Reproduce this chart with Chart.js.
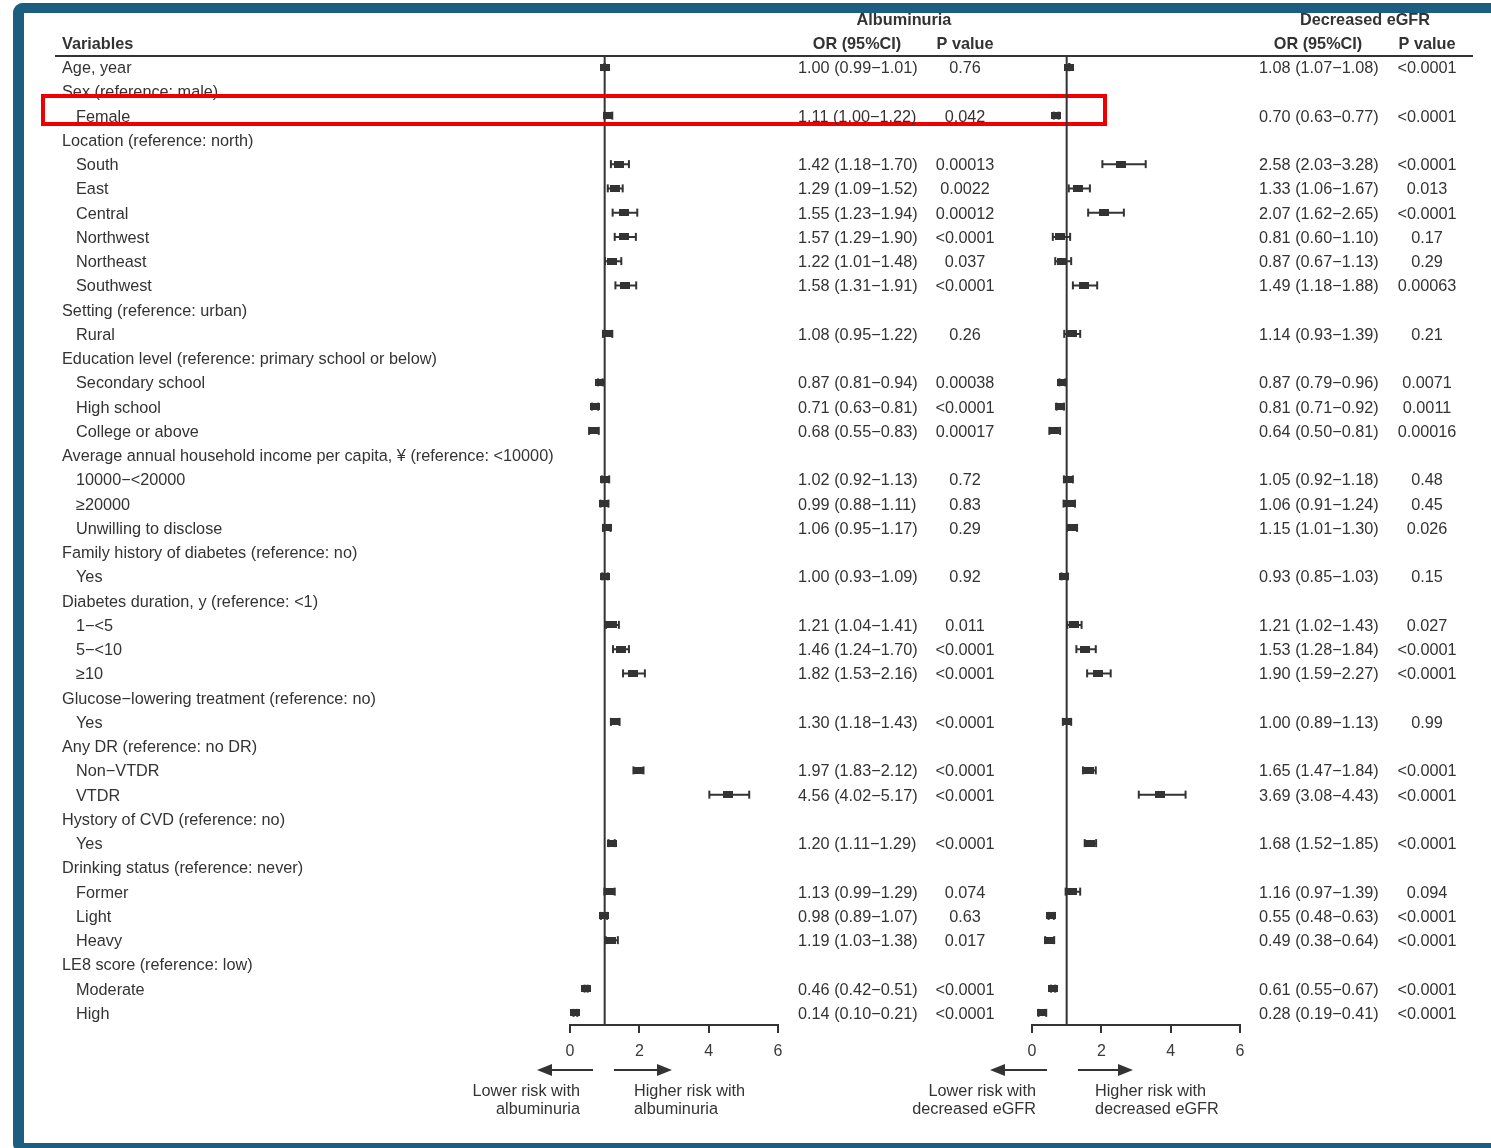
<!DOCTYPE html>
<html>
<head>
<meta charset="utf-8">
<title>Risk factors for albuminuria and decreased eGFR</title>
<script src="https://cdn.jsdelivr.net/npm/chart.js@4.4.1/dist/chart.umd.min.js"></script>
<style>
  html, body { margin: 0; padding: 0; background: #ffffff; width: 1491px; height: 1148px; overflow: hidden; }
  #frame {
    position: absolute; left: 13px; top: 3px; width: 1600px; height: 1130px;
    border-left: 11px solid #1b5e80; border-top: 10px solid #1b5e80; border-bottom: 10px solid #1b5e80;
    border-top-left-radius: 10px; border-bottom-left-radius: 10px;
  }
  canvas { position: absolute; left: 0; top: 0; }
</style>
</head>
<body>
<div id="frame"></div>
<canvas id="albuminuria" width="1491" height="1148"></canvas>
<canvas id="egfr" width="1491" height="1148"></canvas>
<script>
// ---- table rows (level 0 = variable / reference line, level 1 = category) ----
const variables = [
  "Age, year",
  "Sex (reference: male)", "Female",
  "Location (reference: north)", "South", "East", "Central", "Northwest", "Northeast", "Southwest",
  "Setting (reference: urban)", "Rural",
  "Education level (reference: primary school or below)", "Secondary school", "High school", "College or above",
  "Average annual household income per capita, \u00a5 (reference: <10000)", "10000\u2212<20000", "\u226520000", "Unwilling to disclose",
  "Family history of diabetes (reference: no)", "Yes",
  "Diabetes duration, y (reference: <1)", "1\u2212<5", "5\u2212<10", "\u226510",
  "Glucose\u2212lowering treatment (reference: no)", "Yes",
  "Any DR (reference: no DR)", "Non\u2212VTDR", "VTDR",
  "Hystory of CVD (reference: no)", "Yes",
  "Drinking status (reference: never)", "Former", "Light", "Heavy",
  "LE8 score (reference: low)", "Moderate", "High"
];
const level = [0, 0,1, 0,1,1,1,1,1,1, 0,1, 0,1,1,1, 0,1,1,1, 0,1, 0,1,1,1, 0,1, 0,1,1, 0,1, 0,1,1,1, 0,1,1];

// ---- albuminuria: odds ratio, 95% CI, p value ----
const albOR   = [1.00, null,1.11, null,1.42,1.29,1.55,1.57,1.22,1.58, null,1.08, null,0.87,0.71,0.68, null,1.02,0.99,1.06, null,1.00, null,1.21,1.46,1.82, null,1.30, null,1.97,4.56, null,1.20, null,1.13,0.98,1.19, null,0.46,0.14];
const albLow  = [0.99, null,1.00, null,1.18,1.09,1.23,1.29,1.01,1.31, null,0.95, null,0.81,0.63,0.55, null,0.92,0.88,0.95, null,0.93, null,1.04,1.24,1.53, null,1.18, null,1.83,4.02, null,1.11, null,0.99,0.89,1.03, null,0.42,0.10];
const albHigh = [1.01, null,1.22, null,1.70,1.52,1.94,1.90,1.48,1.91, null,1.22, null,0.94,0.81,0.83, null,1.13,1.11,1.17, null,1.09, null,1.41,1.70,2.16, null,1.43, null,2.12,5.17, null,1.29, null,1.29,1.07,1.38, null,0.51,0.21];
const albP    = ["0.76", null,"0.042", null,"0.00013","0.0022","0.00012","<0.0001","0.037","<0.0001", null,"0.26", null,"0.00038","<0.0001","0.00017", null,"0.72","0.83","0.29", null,"0.92", null,"0.011","<0.0001","<0.0001", null,"<0.0001", null,"<0.0001","<0.0001", null,"<0.0001", null,"0.074","0.63","0.017", null,"<0.0001","<0.0001"];

// ---- decreased eGFR: odds ratio, 95% CI, p value ----
const egfrOR   = [1.08, null,0.70, null,2.58,1.33,2.07,0.81,0.87,1.49, null,1.14, null,0.87,0.81,0.64, null,1.05,1.06,1.15, null,0.93, null,1.21,1.53,1.90, null,1.00, null,1.65,3.69, null,1.68, null,1.16,0.55,0.49, null,0.61,0.28];
const egfrLow  = [1.07, null,0.63, null,2.03,1.06,1.62,0.60,0.67,1.18, null,0.93, null,0.79,0.71,0.50, null,0.92,0.91,1.01, null,0.85, null,1.02,1.28,1.59, null,0.89, null,1.47,3.08, null,1.52, null,0.97,0.48,0.38, null,0.55,0.19];
const egfrHigh = [1.08, null,0.77, null,3.28,1.67,2.65,1.10,1.13,1.88, null,1.39, null,0.96,0.92,0.81, null,1.18,1.24,1.30, null,1.03, null,1.43,1.84,2.27, null,1.13, null,1.84,4.43, null,1.85, null,1.39,0.63,0.64, null,0.67,0.41];
const egfrP    = ["<0.0001", null,"<0.0001", null,"<0.0001","0.013","<0.0001","0.17","0.29","0.00063", null,"0.21", null,"0.0071","0.0011","0.00016", null,"0.48","0.45","0.026", null,"0.15", null,"0.027","<0.0001","<0.0001", null,"0.99", null,"<0.0001","<0.0001", null,"<0.0001", null,"0.094","<0.0001","<0.0001", null,"<0.0001","<0.0001"];

// ---- axis ----
const xTicks = [0, 2, 4, 6];
const nullEffect = 1;

const FONT = '"Liberation Sans", Arial, Helvetica, sans-serif';
const FONT_SIZE = 16.25;
const TEXT_DY = 1.5;          // optical centring of text on its row
const INK = '#333333';
const W = 1491, H = 1148;
const Y_MIN = -0.5, Y_MAX = variables.length - 0.5;

// filled box used as the point estimate marker
const boxGlyph = document.createElement('canvas');
boxGlyph.width = 10; boxGlyph.height = 7;
(function () { const g = boxGlyph.getContext('2d'); g.fillStyle = INK; g.fillRect(0, 0, 10, 7); })();

const fmt = v => v.toFixed(2);

function put(ctx, s, x, y, align, bold) {
  ctx.font = (bold ? 'bold ' : '') + FONT_SIZE + 'px ' + FONT;
  ctx.textAlign = align;
  ctx.textBaseline = 'middle';
  ctx.fillStyle = INK;
  ctx.fillText(s, x, y + TEXT_DY);
}

function arrow(ctx, from, to, y) {
  const dir = Math.sign(to - from);
  ctx.strokeStyle = INK; ctx.fillStyle = INK; ctx.lineWidth = 2;
  ctx.beginPath(); ctx.moveTo(from, y); ctx.lineTo(to - dir * 12, y); ctx.stroke();
  ctx.beginPath(); ctx.moveTo(to, y); ctx.lineTo(to - dir * 15, y - 6); ctx.lineTo(to - dir * 15, y + 6); ctx.closePath(); ctx.fill();
}

// draws the text columns, headings and direction arrows for one panel
function tablePlugin(panel) {
  return {
    id: 'table_' + panel.id,
    afterDraw(chart) {
      const ctx = chart.ctx;
      const ys = chart.scales.y;
      ctx.save();

      if (panel.withVariables) {
        put(ctx, 'Variables', 62, 43, 'left', true);
        variables.forEach((name, i) => put(ctx, name, level[i] ? 76 : 62, ys.getPixelForValue(i), 'left', false));
        // header rule
        ctx.strokeStyle = INK; ctx.lineWidth = 2;
        ctx.beginPath(); ctx.moveTo(55, 56); ctx.lineTo(1473, 56); ctx.stroke();
        // highlight around the sex row
        ctx.strokeStyle = '#ee0000'; ctx.lineWidth = 4;
        ctx.strokeRect(43, 96, 1062, 28);
      }

      put(ctx, panel.title, panel.titleX, 19.5, 'center', true);
      put(ctx, 'OR (95%CI)', panel.orHeadX, 43, 'center', true);
      put(ctx, 'P value', panel.pX, 43, 'center', true);

      panel.or.forEach((v, i) => {
        if (v == null) return;
        const y = ys.getPixelForValue(i);
        put(ctx, fmt(v) + ' (' + fmt(panel.lo[i]) + '\u2212' + fmt(panel.hi[i]) + ')', panel.orX, y, 'left', false);
        put(ctx, panel.p[i], panel.pX, y, 'center', false);
      });

      const a = panel.arrows;
      arrow(ctx, a.leftTail, a.leftTip, 1070);
      arrow(ctx, a.rightTail, a.rightTip, 1070);
      put(ctx, 'Lower risk with', a.lowerX, 1090, 'right', false);
      put(ctx, panel.outcome, a.lowerX, 1108, 'right', false);
      put(ctx, 'Higher risk with', a.higherX, 1090, 'left', false);
      put(ctx, panel.outcome, a.higherX, 1108, 'left', false);

      ctx.restore();
    }
  };
}

function forestPanel(canvasId, panel) {
  const boxes = [], whiskers = [];
  panel.or.forEach((v, i) => {
    if (v == null) return;
    boxes.push({ x: v, y: i });
    whiskers.push({ x: panel.lo[i], y: i }, { x: panel.hi[i], y: i }, { x: null, y: null });
  });

  return new Chart(document.getElementById(canvasId), {
    type: 'scatter',
    data: {
      datasets: [
        { data: boxes, pointStyle: boxGlyph, pointRadius: 5, pointHoverRadius: 5, clip: false },
        { data: whiskers, showLine: true, spanGaps: false, borderColor: INK, borderWidth: 2,
          pointStyle: 'line', rotation: 90, pointRadius: 4, pointHoverRadius: 4,
          pointBorderColor: INK, pointBorderWidth: 2, clip: false },
        { data: [{ x: nullEffect, y: Y_MIN }, { x: nullEffect, y: Y_MAX }], showLine: true,
          borderColor: INK, borderWidth: 2, pointRadius: 0, clip: false }
      ]
    },
    options: {
      responsive: false,
      animation: false,
      devicePixelRatio: 1,
      events: [],
      layout: { padding: { left: panel.left, right: W - panel.right, top: 55, bottom: 83 } },
      plugins: { legend: { display: false }, tooltip: { enabled: false } },
      scales: {
        x: {
          type: 'linear', min: xTicks[0], max: xTicks[xTicks.length - 1],
          afterBuildTicks: s => { s.ticks = xTicks.map(v => ({ value: v })); },
          afterFit: s => { s.height = 40; },
          ticks: { color: '#3a3a3a', font: { family: FONT, size: 16 }, padding: 9 },
          grid: { drawOnChartArea: false, drawTicks: true, tickLength: 8, color: INK, lineWidth: 2 },
          border: { display: true, color: INK, width: 2 }
        },
        y: { type: 'linear', reverse: true, min: Y_MIN, max: Y_MAX, display: false }
      }
    },
    plugins: [tablePlugin(panel)]
  });
}

forestPanel('albuminuria', {
  id: 'alb', withVariables: true, title: 'Albuminuria', outcome: 'albuminuria',
  or: albOR, lo: albLow, hi: albHigh, p: albP,
  left: 570, right: 778, titleX: 904, orHeadX: 857, orX: 798, pX: 965,
  arrows: { leftTail: 593, leftTip: 537, rightTail: 614, rightTip: 672, lowerX: 580, higherX: 634 }
});

forestPanel('egfr', {
  id: 'egfr', withVariables: false, title: 'Decreased eGFR', outcome: 'decreased eGFR',
  or: egfrOR, lo: egfrLow, hi: egfrHigh, p: egfrP,
  left: 1032, right: 1240, titleX: 1365, orHeadX: 1318, orX: 1259, pX: 1427,
  arrows: { leftTail: 1047, leftTip: 990, rightTail: 1078, rightTip: 1133, lowerX: 1036, higherX: 1095 }
});
</script>
</body>
</html>
